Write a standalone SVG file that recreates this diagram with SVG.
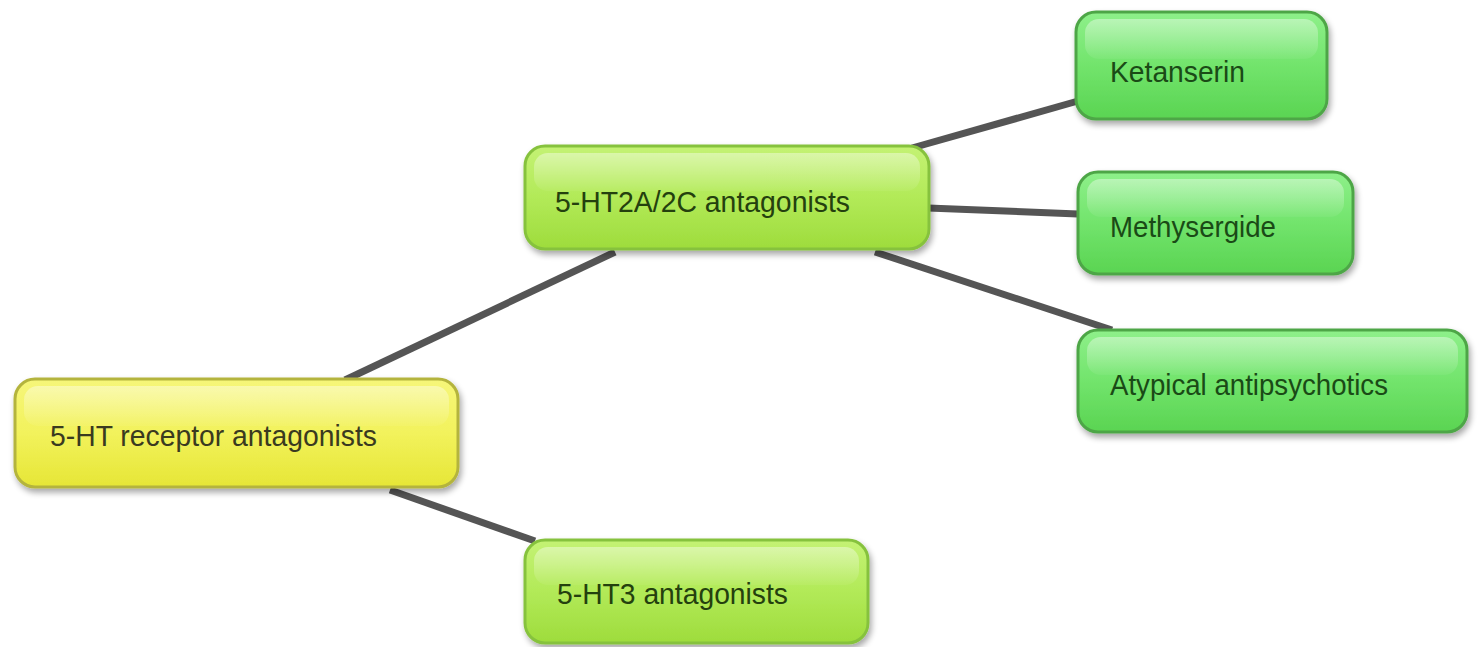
<svg xmlns="http://www.w3.org/2000/svg" width="1478" height="647" viewBox="0 0 1478 647">
<defs>
<linearGradient id="gy" x1="0" y1="0" x2="0" y2="1">
<stop offset="0" stop-color="#f6f67a"/><stop offset="0.5" stop-color="#f2f25c"/><stop offset="1" stop-color="#e6e636"/>
</linearGradient>
<linearGradient id="gl" x1="0" y1="0" x2="0" y2="1">
<stop offset="0" stop-color="#c4f274"/><stop offset="0.5" stop-color="#b2ea58"/><stop offset="1" stop-color="#9edc3c"/>
</linearGradient>
<linearGradient id="gg" x1="0" y1="0" x2="0" y2="1">
<stop offset="0" stop-color="#8ef08a"/><stop offset="0.5" stop-color="#72e46c"/><stop offset="1" stop-color="#5ad452"/>
</linearGradient>
<linearGradient id="gloss" x1="0" y1="0" x2="0" y2="1">
<stop offset="0" stop-color="#ffffff" stop-opacity="0.4"/><stop offset="1" stop-color="#ffffff" stop-opacity="0.05"/>
</linearGradient>
<filter id="sh" x="-5%" y="-10%" width="115%" height="130%">
<feGaussianBlur in="SourceAlpha" stdDeviation="3"/>
<feOffset dx="2" dy="4"/>
<feComponentTransfer><feFuncA type="linear" slope="0.35"/></feComponentTransfer>
<feMerge><feMergeNode/><feMergeNode in="SourceGraphic"/></feMerge>
</filter>
</defs>
<style>
.conn line{stroke:#555;stroke-width:7;stroke-linecap:butt}
.box{stroke-width:3;filter:url(#sh)}
.y{fill:url(#gy);stroke:#b4b43c}
.l{fill:url(#gl);stroke:#86c23e}
.g{fill:url(#gg);stroke:#4ea646}
.gl{fill:url(#gloss)}
text{font-family:"Liberation Sans",Arial,sans-serif;font-size:29px}
.ty{fill:#3a3a20}
.tl{fill:#24400e}
.tg{fill:#1a4a16}
</style>
<rect width="1478" height="647" fill="#ffffff"/>
<g id="connectors" class="conn">
<line x1="345" y1="380" x2="615" y2="252"/>
<line x1="390" y1="490" x2="535" y2="541"/>
<line x1="912" y1="148" x2="1078" y2="101"/>
<line x1="928" y1="208" x2="1078" y2="214"/>
<line x1="875" y1="252" x2="1112" y2="330"/>
</g>
<g id="root">
<rect class="box y" x="15" y="379" width="443" height="108" rx="20"/>
<rect class="gl" x="24" y="386" width="425" height="40" rx="14"/>
<text class="ty" x="50" y="446" textLength="327" lengthAdjust="spacingAndGlyphs">5-HT receptor antagonists</text>
</g>
<g id="ht2a">
<rect class="box l" x="525" y="146" width="404" height="103" rx="20"/>
<rect class="gl" x="534" y="153" width="386" height="38" rx="14"/>
<text class="tl" x="555" y="212" textLength="295" lengthAdjust="spacingAndGlyphs">5-HT2A/2C antagonists</text>
</g>
<g id="ht3">
<rect class="box l" x="525" y="540" width="343" height="103" rx="20"/>
<rect class="gl" x="534" y="547" width="325" height="38" rx="14"/>
<text class="tl" x="557" y="604" textLength="231" lengthAdjust="spacingAndGlyphs">5-HT3 antagonists</text>
</g>
<g id="ketanserin">
<rect class="box g" x="1076" y="12" width="251" height="107" rx="20"/>
<rect class="gl" x="1085" y="19" width="233" height="40" rx="14"/>
<text class="tg" x="1110" y="82" textLength="135" lengthAdjust="spacingAndGlyphs">Ketanserin</text>
</g>
<g id="methysergide">
<rect class="box g" x="1078" y="172" width="275" height="102" rx="20"/>
<rect class="gl" x="1087" y="179" width="257" height="38" rx="14"/>
<text class="tg" x="1110" y="237" textLength="166" lengthAdjust="spacingAndGlyphs">Methysergide</text>
</g>
<g id="atypical">
<rect class="box g" x="1078" y="330" width="389" height="102" rx="20"/>
<rect class="gl" x="1087" y="337" width="371" height="38" rx="14"/>
<text class="tg" x="1110" y="395" textLength="278" lengthAdjust="spacingAndGlyphs">Atypical antipsychotics</text>
</g>
</svg>
